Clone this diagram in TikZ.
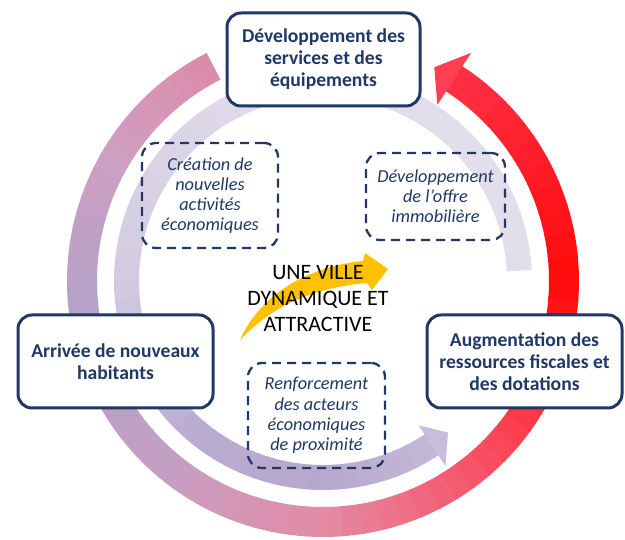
\documentclass[tikz,border=0pt]{standalone}
\usepackage{fontspec}
\setmainfont{Carlito}
\usepackage{xcolor}
\usetikzlibrary{calc}

\definecolor{navy}{HTML}{1F3864}
\definecolor{gold}{HTML}{FFC000}
% outer ring colours
\definecolor{oa}{HTML}{DE8AAA}
\definecolor{ob}{HTML}{CDA0C2}
\definecolor{oc}{HTML}{B5A1C8}
\definecolor{od}{HTML}{C59FC4}
\definecolor{oe}{HTML}{E48BA6}
\definecolor{of}{HTML}{FA4A5E}
\definecolor{og}{HTML}{FF0A0A}
\definecolor{oh}{HTML}{FF3045}
\definecolor{headred}{HTML}{FF4052}
% inner ring colours
\definecolor{ia}{HTML}{E3DEEC}
\definecolor{ib}{HTML}{E2DDEB}
\definecolor{ic}{HTML}{D3CAE1}
\definecolor{id}{HTML}{BAACD0}
\definecolor{ie}{HTML}{B6A8CD}
\definecolor{if}{HTML}{C4B8D7}
\definecolor{headlav}{HTML}{C8BDDA}

\newcommand{\ringpart}[6]{%
  \foreach \k in {0,...,9}{%
    \pgfmathsetmacro{\pa}{#3+(#4-#3)*\k/10}%
    \pgfmathsetmacro{\pb}{#3+(#4-#3)*(\k+1)/10+0.5}%
    \pgfmathtruncatemacro{\pc}{100-10*\k-5}%
    \draw[line width=#2, draw=#5!\pc!#6] ($(C)+(\pa:#1)$) arc[start angle=\pa, end angle=\pb, radius=#1];
  }}

\begin{document}
\begin{tikzpicture}[x=1pt,y=1pt,
  mainbox/.style={draw=navy,line width=3pt,rounded corners=14pt,fill=white,
    text=navy,align=center,font=\fontsize{19.6}{22}\selectfont\bfseries,
    minimum width=195,minimum height=93,inner sep=0pt},
  ideabox/.style={draw=navy,line width=2.3pt,dash pattern=on 9pt off 6pt,
    rounded corners=14pt,text=navy,align=center,
    font=\fontsize{18.3}{20.2}\selectfont\itshape,inner sep=0pt}]
\useasboundingbox (0,0) rectangle (625,540);
\coordinate (C) at (323,259);

% outer ring
\ringpart{241}{30}{117}{150}{oa}{ob}
\ringpart{241}{30}{150}{185}{ob}{oc}
\ringpart{241}{30}{185}{230}{oc}{od}
\ringpart{241}{30}{230}{270}{od}{oe}
\ringpart{241}{30}{270}{315}{oe}{of}
\ringpart{241}{30}{315}{360}{of}{og}
\ringpart{241}{30}{360}{417}{og}{oh}
\fill[headred] ($(C)+(57:210)$) -- ($(C)+(62.5:241)$) -- ($(C)+(57:272)$) -- cycle;

% inner ring
\ringpart{196.5}{25}{3}{100}{ia}{ib}
\ringpart{196.5}{25}{100}{180}{ib}{ic}
\ringpart{196.5}{25}{180}{230}{ic}{id}
\ringpart{196.5}{25}{230}{270}{id}{ie}
\ringpart{196.5}{25}{270}{303.5}{ie}{if}
\fill[headlav] ($(C)+(303.5:173)$) -- ($(C)+(309.5:196.5)$) -- ($(C)+(303.5:222)$) -- cycle;

% yellow arrow
\fill[gold] (240,200) .. controls (255,235) and (295,272) .. (363,279)
  -- (365,287) -- (388,271) -- (372,250) -- (367,257)
  .. controls (310,252) and (270,232) .. (240,200) -- cycle;

\node[font=\fontsize{22}{26}\selectfont,align=center] (ville) at (318,241)
  {UNE VILLE\\DYNAMIQUE ET\\ATTRACTIVE};

\node[mainbox,minimum width=193] (services) at (323.5,480.5)
  {Développement des\\services et des\\équipements};
\node[mainbox] (habitants) at (115.5,178.5) {Arrivée de nouveaux\\habitants};
\node[mainbox] (ressources) at (524.5,178.5)
  {Augmentation des\\ressources fiscales et\\des dotations};

\node[ideabox,minimum width=136,minimum height=105] (activites) at (210,344.5)
  {Création de\\nouvelles\\activités\\économiques};
\node[ideabox,minimum width=139,minimum height=87] (immobilier) at (435.5,343.5)
  {Développement\\de l’offre\\immobilière};
\node[ideabox,minimum width=137,minimum height=105] (acteurs) at (316.5,124.5)
  {Renforcement\\des acteurs\\économiques\\de proximité};
\end{tikzpicture}
\end{document}
